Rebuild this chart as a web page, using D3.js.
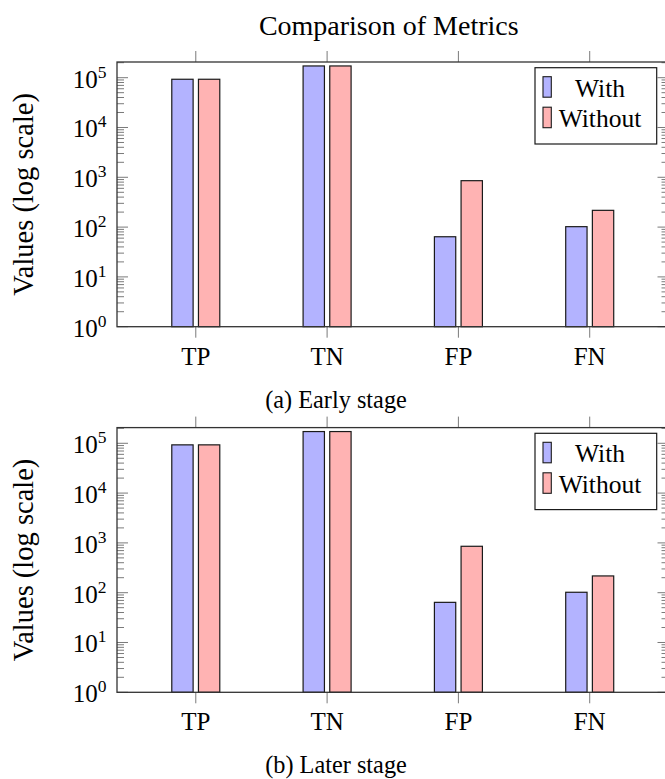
<!DOCTYPE html>
<html>
<head>
<meta charset="utf-8">
<script src="https://cdn.jsdelivr.net/npm/d3@7"></script>
<style>
  html, body { margin: 0; padding: 0; background: #fff; }
  svg { display: block; overflow: hidden; }
  text { font-family: "Liberation Serif", "Times New Roman", serif; fill: #000; }
</style>
</head>
<body>
<svg id="chart" width="665" height="779"></svg>
<script>
// ---- data ----
const categories = ["TP", "TN", "FP", "FN"];
const seriesNames = ["With", "Without"];
const earlyWith = [93000, 172000, 64, 102];
const earlyWithout = [93000, 172000, 855, 217];
const laterWith = [93000, 172000, 64, 102];
const laterWithout = [93000, 172000, 855, 217];
const yTickExponents = [0, 1, 2, 3, 4, 5];
const chartTitle = "Comparison of Metrics";
const yLabel = "Values (log scale)";
const captions = ["(a) Early stage", "(b) Later stage"];

// ---- layout ----
const svg = d3.select("#chart");
const axLeft = 117, axRight = 668.5;
const panelTop = [62, 427.6];
const panelH = 264.7;
const colors = { With: "#b3b3ff", Without: "#ffb3b3" };

const x = d3.scalePoint().domain(categories).range([axLeft, axRight]).padding(0.6);
const xs = d3.scaleBand().domain(seriesNames).range([-24, 24]).paddingInner(0.2);

function drawPanel(top, withVals, withoutVals, caption, showTitle) {
  const g = svg.append("g").attr("transform", `translate(0,${top})`);
  const y = d3.scaleLog().domain([1, Math.pow(10, 5.315)]).range([panelH, 0]);

  // bars
  const rows = categories.map((c, i) => ({ cat: c, vals: [withVals[i], withoutVals[i]] }));
  rows.forEach(r => {
    seriesNames.forEach((s, j) => {
      g.append("rect")
        .attr("x", x(r.cat) + xs(s))
        .attr("width", xs.bandwidth())
        .attr("y", y(r.vals[j]))
        .attr("height", y(1) - y(r.vals[j]))
        .attr("fill", colors[s])
        .attr("stroke", "#1a1a1a")
        .attr("stroke-width", 1.2);
    });
  });

  // y ticks (major + minor), both sides, pointing inward
  const majors = yTickExponents.map(e => Math.pow(10, e));
  const minors = [];
  yTickExponents.forEach(e => {
    for (let k = 2; k <= 9; k++) {
      const v = k * Math.pow(10, e);
      if (v <= y.domain()[1]) minors.push(v);
    }
  });
  const tickCol = "#7a7a7a";
  majors.forEach(v => {
    g.append("line").attr("x1", axLeft).attr("x2", axLeft + 11).attr("y1", y(v)).attr("y2", y(v))
      .attr("stroke", tickCol).attr("stroke-width", 1);
    g.append("line").attr("x1", axRight).attr("x2", axRight - 11).attr("y1", y(v)).attr("y2", y(v))
      .attr("stroke", tickCol).attr("stroke-width", 1);
  });
  minors.forEach(v => {
    g.append("line").attr("x1", axLeft).attr("x2", axLeft + 7).attr("y1", y(v)).attr("y2", y(v))
      .attr("stroke", tickCol).attr("stroke-width", 1);
    g.append("line").attr("x1", axRight).attr("x2", axRight - 7).attr("y1", y(v)).attr("y2", y(v))
      .attr("stroke", tickCol).attr("stroke-width", 1);
  });

  // y tick labels 10^k
  yTickExponents.forEach(e => {
    const t = g.append("text")
      .attr("x", 106.5)
      .attr("y", y(Math.pow(10, e)) + 10)
      .attr("text-anchor", "end")
      .style("font-size", "25px");
    t.append("tspan").text("10");
    t.append("tspan").attr("dy", -10).style("font-size", "17.5px").text(String(e));
  });

  // x ticks top and bottom (outside)
  categories.forEach(c => {
    g.append("line").attr("x1", x(c)).attr("x2", x(c)).attr("y1", 0).attr("y2", -11)
      .attr("stroke", tickCol).attr("stroke-width", 1);
    g.append("line").attr("x1", x(c)).attr("x2", x(c)).attr("y1", panelH).attr("y2", panelH + 11)
      .attr("stroke", tickCol).attr("stroke-width", 1);
    g.append("text").attr("x", x(c)).attr("y", panelH + 38)
      .attr("text-anchor", "middle").style("font-size", "25px").text(c);
  });

  // frame
  g.append("rect").attr("x", axLeft).attr("y", 0).attr("width", axRight - axLeft).attr("height", panelH)
    .attr("fill", "none").attr("stroke", "#333").attr("stroke-width", 1.3);

  // y label
  g.append("text")
    .attr("transform", `translate(33,${panelH / 2}) rotate(-90)`)
    .attr("text-anchor", "middle")
    .style("font-size", "28.5px")
    .text(yLabel);

  // legend
  const lg = g.append("g");
  const lx = 535, ly = 5.7, lw = 121.7, lh = 76.3;
  lg.append("rect").attr("x", lx).attr("y", ly).attr("width", lw).attr("height", lh)
    .attr("fill", "#fff").attr("stroke", "#1a1a1a").attr("stroke-width", 1.2);
  seriesNames.forEach((s, i) => {
    const by = ly + 9 + i * 30.5;
    lg.append("rect").attr("x", lx + 8).attr("y", by).attr("width", 8.3).attr("height", 20.5)
      .attr("fill", colors[s]).attr("stroke", "#1a1a1a").attr("stroke-width", 1.1);
    lg.append("text").attr("x", lx + 65).attr("y", by + 20)
      .attr("text-anchor", "middle").style("font-size", "25.5px").text(s);
  });

  if (showTitle) {
    g.append("text").attr("x", (axLeft + axRight) / 2 - 4).attr("y", -27)
      .attr("text-anchor", "middle").style("font-size", "28px").text(chartTitle);
  }

  // caption
  g.append("text").attr("x", 336).attr("y", panelH + 81)
    .attr("text-anchor", "middle").style("font-size", "24.3px").text(caption);
}

drawPanel(panelTop[0], earlyWith, earlyWithout, captions[0], true);
drawPanel(panelTop[1], laterWith, laterWithout, captions[1], false);
</script>
</body>
</html>
